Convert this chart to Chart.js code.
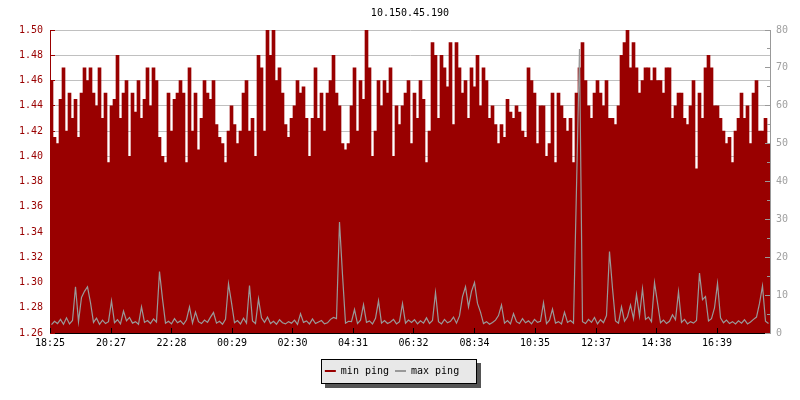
<!DOCTYPE html>
<html>
<head>
<meta charset="utf-8">
<title>10.150.45.190</title>
<script src="https://cdn.jsdelivr.net/npm/chart.js@4.4.0/dist/chart.umd.min.js"></script>
<style>
  html, body { margin: 0; padding: 0; background: #fff; }
  #wrap { width: 800px; height: 400px; }
</style>
</head>
<body>
<div id="wrap"><canvas id="pingChart"></canvas></div>
<script>
// ping stats for one host over 24h, one sample every 6 minutes
const chartTitle = '10.150.45.190';
const timeLabels = ['18:25', '20:27', '22:28', '00:29', '02:30', '04:31', '06:32', '08:34', '10:35', '12:37', '14:38', '16:39'];
const stepMinutes = 6;

// min ping (left axis)
const minPing = [
  1.46, 1.415, 1.41, 1.445, 1.47, 1.42, 1.45, 1.43, 1.445, 1.415,
  1.45, 1.47, 1.46, 1.47, 1.45, 1.44, 1.47, 1.43, 1.45, 1.395,
  1.44, 1.445, 1.48, 1.43, 1.45, 1.46, 1.40, 1.45, 1.435, 1.46,
  1.43, 1.445, 1.47, 1.44, 1.47, 1.46, 1.415, 1.40, 1.395, 1.45,
  1.42, 1.445, 1.45, 1.46, 1.45, 1.395, 1.47, 1.42, 1.45, 1.405,
  1.43, 1.46, 1.45, 1.445, 1.46, 1.425, 1.415, 1.41, 1.395, 1.42,
  1.44, 1.425, 1.41, 1.42, 1.45, 1.46, 1.42, 1.43, 1.40, 1.48,
  1.47, 1.42, 1.50, 1.48, 1.50, 1.46, 1.47, 1.45, 1.425, 1.415,

  1.43, 1.44, 1.46, 1.45, 1.455, 1.43, 1.40, 1.43, 1.47, 1.43,
  1.45, 1.42, 1.45, 1.46, 1.48, 1.45, 1.44, 1.41, 1.405, 1.41,
  1.44, 1.47, 1.42, 1.46, 1.445, 1.50, 1.47, 1.40, 1.42, 1.46,
  1.44, 1.46, 1.45, 1.47, 1.40, 1.44, 1.425, 1.44, 1.45, 1.46,
  1.41, 1.45, 1.43, 1.46, 1.445, 1.395, 1.42, 1.49, 1.48, 1.43,
  1.48, 1.47, 1.455, 1.49, 1.425, 1.49, 1.47, 1.45, 1.46, 1.43,
  1.47, 1.455, 1.48, 1.44, 1.47, 1.46, 1.43, 1.44, 1.425, 1.41,
  1.425, 1.415, 1.445, 1.435, 1.43, 1.44, 1.435, 1.42, 1.415, 1.47,

  1.46, 1.45, 1.41, 1.44, 1.44, 1.40, 1.41, 1.45, 1.395, 1.45,
  1.44, 1.43, 1.42, 1.43, 1.395, 1.45, 1.47, 1.49, 1.46, 1.44,
  1.43, 1.45, 1.46, 1.45, 1.44, 1.46, 1.43, 1.43, 1.425, 1.44,
  1.48, 1.49, 1.50, 1.47, 1.49, 1.47, 1.45, 1.46, 1.47, 1.47,
  1.46, 1.47, 1.46, 1.46, 1.45, 1.47, 1.47, 1.43, 1.44, 1.45,
  1.45, 1.43, 1.425, 1.44, 1.46, 1.39, 1.45, 1.43, 1.47, 1.48,
  1.47, 1.44, 1.44, 1.43, 1.42, 1.41, 1.415, 1.395, 1.42, 1.43,
  1.45, 1.43, 1.44, 1.41, 1.45, 1.46, 1.42, 1.42, 1.43, 1.41
];

// max ping (right axis)
const maxPing = [
  2.2, 3.1, 2.5, 3.6, 2.3, 4.0, 2.4, 3.3, 12.2, 3.0,
  9.4, 11.0, 12.2, 8.0, 2.8, 3.9, 2.3, 3.4, 2.5, 3.0,
  8.5, 2.7, 3.5, 2.4, 5.8, 3.2, 4.1, 2.6, 3.0, 2.3,
  6.9, 2.8, 3.3, 2.5, 3.7, 2.9, 16.2, 9.0, 2.6, 3.1,
  2.4, 3.8, 2.7, 3.2, 2.3, 3.5, 6.9, 2.6, 5.5, 3.0,
  2.5, 3.4, 2.8, 4.2, 5.4, 2.6, 3.1, 2.3, 3.6, 13.0,
  8.0, 2.7, 3.3, 2.4, 3.9, 2.6, 12.5, 3.2, 2.5, 9.0,
  4.0, 2.8, 4.2, 2.5, 3.1, 2.3, 3.5, 2.7, 2.4, 3.0,
  2.6, 3.4, 2.3, 5.1, 2.8, 3.2, 2.4, 3.7, 2.5, 2.9,
  3.3, 2.4, 2.7, 3.6, 4.1, 3.8, 29.3, 15.4, 2.6, 3.1,
  3.0, 6.2, 2.5, 3.4, 7.5, 2.8, 3.2, 2.4, 3.9, 8.5,
  2.6, 3.3, 2.5, 2.9, 3.6, 2.4, 3.0, 7.8, 2.6, 3.4,
  2.8, 3.5, 2.4, 3.2, 2.6, 4.0, 2.5, 3.3, 10.7, 3.0,
  2.4, 3.6, 2.7, 3.1, 4.2, 2.6, 4.5, 9.6, 12.2, 6.9,
  11.0, 13.3, 7.8, 5.5, 2.5, 3.0, 2.3, 2.8, 3.4, 4.6,
  7.4, 2.6, 3.3, 2.4, 5.1, 3.0, 2.5, 3.8, 2.7, 3.2,
  2.4, 3.6, 2.8, 3.1, 8.0, 2.5, 3.4, 6.3, 2.6, 3.0,
  2.4, 5.5, 2.8, 3.3, 2.6, 38.4, 75.0, 3.0, 2.5, 3.6,
  2.8, 4.1, 2.4, 3.5, 2.7, 4.6, 21.5, 11.8, 3.2, 2.6,
  6.9, 3.1, 4.3, 7.4, 3.8, 10.2, 4.5, 11.7, 3.6, 4.2,
  3.0, 13.3, 8.0, 2.7, 3.4, 2.5, 3.1, 4.8, 3.5, 10.9,
  2.8, 3.6, 2.4, 3.0, 2.6, 3.3, 15.8, 8.8, 9.6, 3.2,
  3.8, 6.6, 13.1, 4.0, 2.7, 3.4, 2.5, 3.0, 2.4, 3.2,
  2.6, 3.5, 2.4, 2.9, 3.6, 4.2, 7.8, 12.4, 3.1, 2.5
];

const red = '#990000';
const gray = '#999999';

// minutes after the first label, for placing the time ticks
function minutesFromStart(label) {
  const [h, m] = label.split(':').map(Number);
  const [h0, m0] = timeLabels[0].split(':').map(Number);
  let d = (h * 60 + m) - (h0 * 60 + m0);
  if (d < 0) d += 1440;
  return d;
}
const tickMinutes = timeLabels.map(minutesFromStart);

const toPoints = arr => arr.map((v, i) => ({ x: i * stepMinutes + stepMinutes / 2, y: v }));

const isEvenHundredth = v => Math.round(v * 100) % 2 === 0;

function alignPx(p) { return Math.round(p - 0.5) + 0.5; }

// inward tick marks + legend frame
const decorations = {
  id: 'decorations',
  afterLayout(chart) {
    chart.legend.left -= 8;
    chart.legend.right -= 8;
  },
  beforeDraw(chart) {
    const boxes = chart.legend.legendHitBoxes;
    if (!boxes || !boxes.length) return;
    const ctx = chart.ctx;
    const first = boxes[0], last = boxes[boxes.length - 1];
    const x0 = Math.round(first.left - 4), x1 = Math.round(last.left + last.width + 17);
    const yc = first.top + first.height / 2;
    const y0 = Math.round(yc - 12), y1 = y0 + 24;
    ctx.save();
    ctx.fillStyle = '#555555';
    ctx.fillRect(x0 + 4, y0 + 4, x1 - x0 + 1, y1 - y0 + 1);
    ctx.fillStyle = '#e8e8e8';
    ctx.fillRect(x0, y0, x1 - x0, y1 - y0);
    ctx.strokeStyle = '#000';
    ctx.lineWidth = 1;
    ctx.strokeRect(x0 + 0.5, y0 + 0.5, x1 - x0, y1 - y0);
    ctx.restore();
  },
  beforeDatasetsDraw(chart) {
    const { ctx, chartArea, scales } = chart;
    ctx.save();
    ctx.strokeStyle = red;
    ctx.lineWidth = 1;
    ctx.beginPath();
    scales.y.ticks.forEach(t => {
      const py = alignPx(scales.y.getPixelForValue(t.value));
      const len = isEvenHundredth(t.value) ? 5 : 3;
      ctx.moveTo(chartArea.left, py);
      ctx.lineTo(chartArea.left + len, py);
    });
    ctx.stroke();
    ctx.restore();
  },
  afterDatasetsDraw(chart) {
    const { ctx, chartArea, scales } = chart;
    ctx.save();
    ctx.lineWidth = 1;
    ctx.strokeStyle = gray;
    ctx.beginPath();
    scales.y2.ticks.forEach(t => {
      const py = alignPx(scales.y2.getPixelForValue(t.value));
      const len = t.value % 10 === 0 ? 5 : 3;
      ctx.moveTo(chartArea.right, py);
      ctx.lineTo(chartArea.right - len, py);
    });
    ctx.stroke();
    ctx.strokeStyle = '#000';
    ctx.beginPath();
    scales.x.ticks.forEach(t => {
      const px = alignPx(scales.x.getPixelForValue(t.value));
      ctx.moveTo(px, chartArea.bottom);
      ctx.lineTo(px, chartArea.bottom - 5);
    });
    ctx.stroke();
    ctx.restore();
  }
};

Chart.defaults.font.family = "'DejaVu Sans Mono', monospace";
Chart.defaults.font.size = 10;
Chart.defaults.color = '#000';

const ctx = document.getElementById('pingChart').getContext('2d');
new Chart(ctx, {
  type: 'bar',
  data: {
    datasets: [{
      type: 'bar',
      label: 'min ping',
      data: toPoints(minPing),
      backgroundColor: red,
      borderWidth: 0,
      barPercentage: 1,
      categoryPercentage: 1,
      yAxisID: 'y',
      order: 1,
      legendColor: red
    }, {
      type: 'line',
      label: 'max ping',
      data: toPoints(maxPing),
      borderColor: gray,
      borderWidth: 1.2,
      pointRadius: 0,
      tension: 0,
      fill: false,
      yAxisID: 'y2',
      order: 0,
      legendColor: gray
    }]
  },
  options: {
    responsive: true,
    maintainAspectRatio: false,
    animation: false,
    layout: { padding: { left: 0, right: 0, top: 0, bottom: 14 } },
    scales: {
      x: {
        type: 'linear',
        min: 0,
        max: 1440,
        offset: false,
        z: 1,
        border: { color: '#000' },
        grid: { drawOnChartArea: false, drawTicks: false },
        afterBuildTicks: s => { s.ticks = tickMinutes.map(v => ({ value: v })); },
        afterFit: s => { s.height += 7; },
        ticks: {
          padding: 4,
          autoSkip: false,
          maxRotation: 0,
          color: '#000',
          callback: v => timeLabels[tickMinutes.indexOf(v)]
        }
      },
      y: {
        position: 'left',
        min: 1.26,
        max: 1.50,
        border: { color: red },
        grid: {
          drawTicks: false,
          color: c => (c.tick && isEvenHundredth(c.tick.value)) ? '#c0c0c0' : 'rgba(0,0,0,0)'
        },
        afterBuildTicks: s => {
          const t = [];
          for (let k = 126; k <= 150; k++) t.push({ value: k / 100 });
          s.ticks = t;
        },
        afterFit: s => { s.width = 50; },
        ticks: {
          color: red,
          padding: 7,
          callback: v => isEvenHundredth(v) ? v.toFixed(2) : ''
        }
      },
      y2: {
        position: 'right',
        min: 0,
        max: 80,
        z: 1,
        border: { color: gray },
        grid: { drawOnChartArea: false, drawTicks: false },
        afterBuildTicks: s => {
          const t = [];
          for (let k = 0; k <= 80; k += 5) t.push({ value: k });
          s.ticks = t;
        },
        afterFit: s => { s.width = 30; },
        ticks: {
          color: '#a0a0a0',
          padding: 6,
          callback: v => v % 10 === 0 ? String(v) : ''
        }
      }
    },
    plugins: {
      title: {
        display: true,
        text: chartTitle,
        color: '#000',
        fullSize: false,
        font: { size: 10, weight: 'normal' },
        padding: { top: 7, bottom: 11 }
      },
      legend: {
        position: 'bottom',
        labels: {
          usePointStyle: true,
          pointStyle: 'line',
          pointStyleWidth: 11,
          boxHeight: 10,
          padding: 6,
          color: '#000',
          generateLabels: chart => chart.data.datasets.map((ds, i) => ({
            text: ds.label,
            fillStyle: ds.legendColor,
            strokeStyle: ds.legendColor,
            lineWidth: 2,
            pointStyle: 'line',
            hidden: false,
            datasetIndex: i
          }))
        }
      },
      tooltip: { enabled: false }
    }
  },
  plugins: [decorations]
});
</script>
</body>
</html>
